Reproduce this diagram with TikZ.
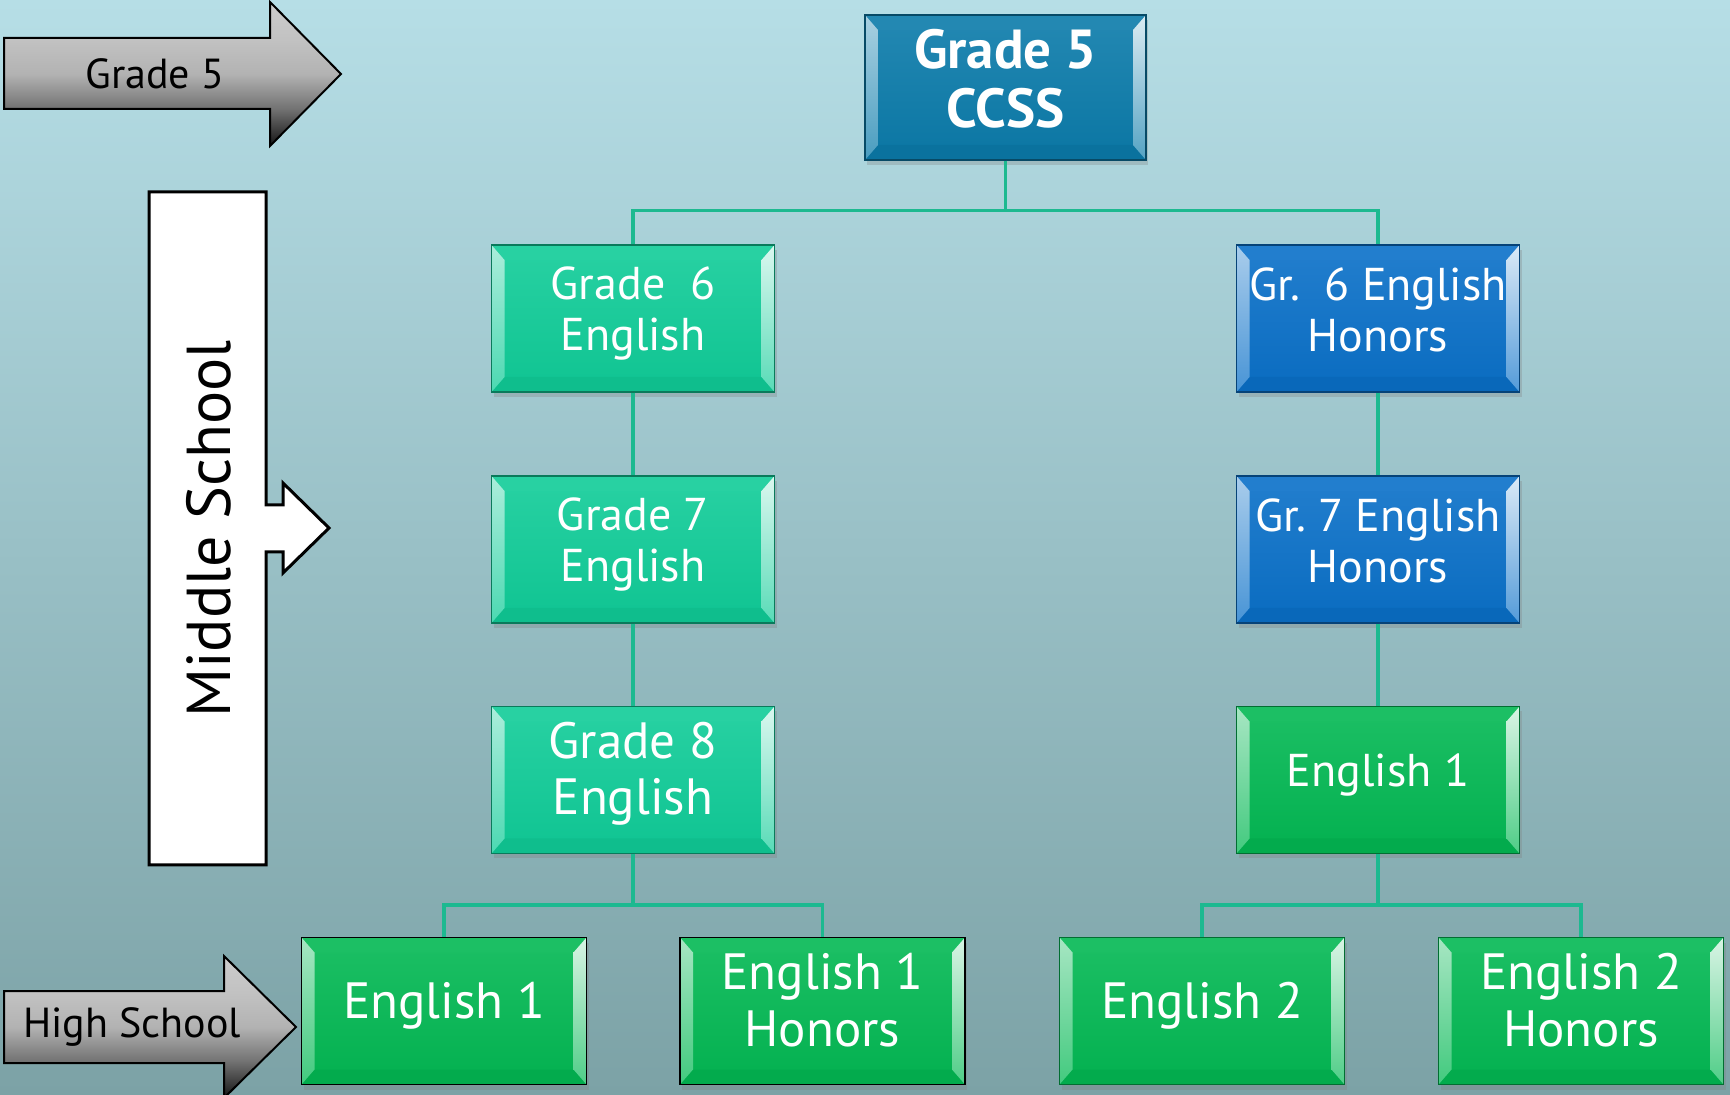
\documentclass[tikz,border=0pt]{standalone}
\usepackage{fontspec}
\setmainfont{PT Sans}
\usetikzlibrary{shadows, calc}

\definecolor{bgtop}{HTML}{B6DEE6}
\definecolor{bgbot}{HTML}{7CA2A6}
\definecolor{ccssblue}{HTML}{0B7BAA}
\definecolor{tealgreen}{HTML}{10CC98}
\definecolor{honorsblue}{HTML}{0A70C8}
\definecolor{hsgreen}{HTML}{03B853}
\definecolor{linkgreen}{HTML}{1DB990}

\pgfdeclareverticalshading{grayfade}{100bp}{color(0bp)=(black!92); color(25bp)=(black!92); color(38bp)=(black!55);
  color(50bp)=(black!30); color(62bp)=(black!24); color(75bp)=(black!20); color(100bp)=(black!20)}

\tikzset{
  tile/.style={top color=#1!90!white, bottom color=#1!96!black, draw=#1!60!black, line width=0.6pt,
    minimum width=141.5pt, minimum height=73.5pt, inner sep=0pt,
    text=white, align=center, text depth=10pt,
    drop shadow={opacity=0.3, shadow xshift=1pt, shadow yshift=-2.5pt},
    path picture={
      \path (path picture bounding box.north west) coordinate (pp-nw)
            (path picture bounding box.south east) coordinate (pp-se);
      \path (pp-nw |- pp-se) coordinate (pp-sw) (pp-se |- pp-nw) coordinate (pp-ne);
      % top and bottom bevel
      \fill[#1!90!white] (pp-nw) -- (pp-ne) -- ($(pp-ne)+(-6.5pt,-7.5pt)$) -- ($(pp-nw)+(6.5pt,-7.5pt)$) -- cycle;
      \fill[#1!93!black] (pp-sw) -- (pp-se) -- ($(pp-se)+(-6.5pt,7.5pt)$) -- ($(pp-sw)+(6.5pt,7.5pt)$) -- cycle;
      % side bevels
      \shade[top color=#1!35!white, bottom color=#1!75!white] (pp-nw) -- ($(pp-nw)+(6.5pt,-7.5pt)$) -- ($(pp-sw)+(6.5pt,7.5pt)$) -- (pp-sw) -- cycle;
      \shade[top color=#1!15!white, bottom color=#1!70!white] (pp-ne) -- ($(pp-ne)+(-6.5pt,-7.5pt)$) -- ($(pp-se)+(-6.5pt,7.5pt)$) -- (pp-se) -- cycle;
    }},
  midtext/.style={font=\fontsize{23}{25.5}\selectfont},
  bigtext/.style={font=\fontsize{25.5}{28}\selectfont, text depth=11.4pt},
  hstext/.style={font=\fontsize{25.5}{28.5}\selectfont, text depth=10.8pt},
  link/.style={draw=linkgreen, line width=1.6pt},
  grayarrow/.style={draw=black, line width=1pt, shading=grayfade},
  signtext/.style={text=black, font=\fontsize{21}{24}\selectfont}
}

\begin{document}
\begin{tikzpicture}[x=0.5pt, y=-0.5pt]
% background
\useasboundingbox (0,0) rectangle (1730,1095);
\shade[top color=bgtop, bottom color=bgbot] (0,0) rectangle (1730,1095);

% level markers on the left
\draw[grayarrow] (4,38) -- (270,38) -- (270,2) -- (341,74) -- (270,146) -- (270,109) -- (4,109) -- cycle;
\node[signtext] (gradesign) at (155,74) {Grade 5};

\draw[black, line width=1.5pt, fill=white] (149,192) -- (266,192) -- (266,505) -- (283,505) -- (283,483)
  -- (329,528) -- (283,573) -- (283,552) -- (266,552) -- (266,865) -- (149,865) -- cycle;
\node[text=black, rotate=90, font=\fontsize{31}{34}\selectfont] (middlesign) at (209,529) {Middle School};

\draw[grayarrow] (4,991) -- (224,991) -- (224,956) -- (296,1027) -- (224,1098) -- (224,1063) -- (4,1063) -- cycle;
\node[signtext] (highsign) at (132,1027) {High School};

% top
\node[tile=ccssblue, minimum width=140.5pt, minimum height=72.5pt, text depth=9.6pt,
  font=\bfseries\fontsize{27.5}{29.5}\selectfont] (ccss) at (1005.5,87.5) {Grade 5\\CCSS};

% regular track
\node[tile=tealgreen, midtext] (g6) at (633,318.5) {Grade\ \ 6\\English};
\node[tile=tealgreen, midtext] (g7) at (633,549.5) {Grade 7\\English};
\node[tile=tealgreen, bigtext] (g8) at (633,780) {Grade 8\\English};

% honors track
\node[tile=honorsblue, midtext, text depth=9pt] (h6) at (1378,318.5) {Gr.\ \ 6 English\\Honors};
\node[tile=honorsblue, midtext, text depth=9pt] (h7) at (1378,549.5) {Gr.\ 7 English\\Honors};
\node[tile=hsgreen, midtext] (e1r) at (1378,780) {English 1};

% high school
\node[tile=hsgreen, draw=black, hstext, minimum width=142.5pt] (e1) at (444,1011) {English 1};
\node[tile=hsgreen, draw=black, hstext, minimum width=142.5pt] (e1h) at (822.5,1011) {English 1\\Honors};
\node[tile=hsgreen, hstext, minimum width=142.5pt] (e2) at (1202,1011) {English 2};
\node[tile=hsgreen, hstext, minimum width=142.5pt] (e2h) at (1581,1011) {English 2\\Honors};

% connectors
\draw[link] (ccss.south) -- ++(0,50) -| (g6.north);
\draw[link] (ccss.south) -- ++(0,50) -| (h6.north);
\draw[link] (g6) -- (g7);
\draw[link] (g7) -- (g8);
\draw[link] (h6) -- (h7);
\draw[link] (h7) -- (e1r);
\draw[link] (g8.south) -- ++(0,51) -| (e1.north);
\draw[link] (g8.south) -- ++(0,51) -| (e1h.north);
\draw[link] (e1r.south) -- ++(0,51) -| (e2.north);
\draw[link] (e1r.south) -- ++(0,51) -| (e2h.north);
\end{tikzpicture}
\end{document}
